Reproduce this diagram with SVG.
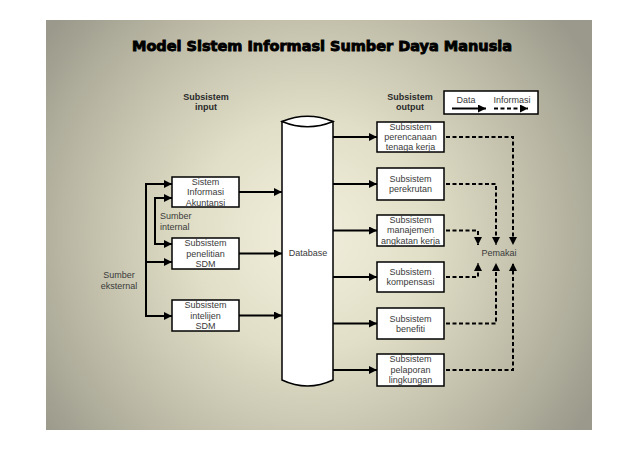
<svg xmlns="http://www.w3.org/2000/svg" width="638" height="452" viewBox="0 0 638 452">
<defs>
<radialGradient id="bg" cx="310" cy="235" r="330" gradientUnits="userSpaceOnUse">
<stop offset="0" stop-color="#f1eedc"/>
<stop offset="0.35" stop-color="#e2dfc8"/>
<stop offset="0.75" stop-color="#b9b7a3"/>
<stop offset="1" stop-color="#9a998b"/>
</radialGradient>
<marker id="ah" viewBox="0 0 8 8" refX="8" refY="4" markerWidth="8" markerHeight="8" markerUnits="userSpaceOnUse" orient="auto">
<path d="M0,0 L8,4 L0,8 z" fill="#000"/>
</marker>
<style>
.box{fill:#fff;stroke:#000;stroke-width:1.5}
.t{font-family:"Liberation Sans",Arial,sans-serif;font-size:9px;fill:#3a3a3a;text-anchor:middle}
.tl{font-family:"Liberation Sans",Arial,sans-serif;font-size:9px;fill:#3a3a3a}
.h{font-family:"Liberation Sans",Arial,sans-serif;font-size:9px;font-weight:bold;fill:#2a2a2a;text-anchor:middle}
.s{fill:none;stroke:#000;stroke-width:2}
.sa{fill:none;stroke:#000;stroke-width:2;marker-end:url(#ah)}
.d{fill:none;stroke:#000;stroke-width:2;stroke-dasharray:4 2.5;marker-end:url(#ah)}
</style>
</defs>
<rect width="638" height="452" fill="#fff"/>
<rect x="46" y="20" width="546" height="410" fill="url(#bg)"/>
<text x="322" y="51" font-family="DejaVu Sans,sans-serif" font-weight="bold" font-size="14.5" fill="#000" stroke="#000" stroke-width="0.9" text-anchor="middle" textLength="380" lengthAdjust="spacingAndGlyphs">Model Sistem Informasi Sumber Daya Manusia</text>

<text class="h" x="206" y="100">Subsistem</text>
<text class="h" x="206" y="110">input</text>
<text class="h" x="410" y="100">Subsistem</text>
<text class="h" x="410" y="110">output</text>

<g id="legend">
<rect x="444" y="91" width="94" height="23" fill="#fff" stroke="#000" stroke-width="1.5"/>
<text class="t" x="466" y="103">Data</text>
<text class="t" x="512" y="103">Informasi</text>
<path class="sa" d="M452,108.5 H486"/>
<path class="d" d="M494,108.5 H528"/>
</g>

<g id="database">
<path d="M282,121.5 V380 Q307.5,392 333,380 V121.5 Z" fill="#fff" stroke="#000" stroke-width="1.5"/>
<path d="M282,121.5 Q307.5,111 333,121.5 Q307.5,132 282,121.5 Z" fill="#fff" stroke="#000" stroke-width="1.5"/>
<text class="t" x="308" y="256">Database</text>
</g>

<g id="in1"><rect class="box" x="172" y="177" width="67" height="30"/>
<text class="t" x="205.5" y="184.5">Sistem</text><text class="t" x="205.5" y="195">Informasi</text><text class="t" x="205.5" y="205.5">Akuntansi</text></g>
<g id="in2"><rect class="box" x="172" y="238" width="67" height="31"/>
<text class="t" x="205.5" y="246">Subsistem</text><text class="t" x="205.5" y="256.5">penelitian</text><text class="t" x="205.5" y="267">SDM</text></g>
<g id="in3"><rect class="box" x="172" y="300" width="67" height="31"/>
<text class="t" x="205.5" y="308">Subsistem</text><text class="t" x="205.5" y="318.5">intelijen</text><text class="t" x="205.5" y="329">SDM</text></g>

<g id="out1"><rect class="box" x="377" y="122" width="67" height="30"/>
<text class="t" x="410.5" y="130">Subsistem</text><text class="t" x="410.5" y="140">perencanaan</text><text class="t" x="410.5" y="150">tenaga kerja</text></g>
<g id="out2"><rect class="box" x="377" y="168" width="67" height="32"/>
<text class="t" x="410.5" y="182">Subsistem</text><text class="t" x="410.5" y="192">perekrutan</text></g>
<g id="out3"><rect class="box" x="377" y="215" width="67" height="31"/>
<text class="t" x="410.5" y="222.5">Subsistem</text><text class="t" x="410.5" y="233">manajemen</text><text class="t" x="410.5" y="243.5">angkatan kerja</text></g>
<g id="out4"><rect class="box" x="377" y="262" width="67" height="30"/>
<text class="t" x="410.5" y="275">Subsistem</text><text class="t" x="410.5" y="285">kompensasi</text></g>
<g id="out5"><rect class="box" x="377" y="308" width="67" height="31"/>
<text class="t" x="410.5" y="321.5">Subsistem</text><text class="t" x="410.5" y="331.5">benefiti</text></g>
<g id="out6"><rect class="box" x="377" y="354" width="67" height="32"/>
<text class="t" x="410.5" y="362">Subsistem</text><text class="t" x="410.5" y="372.5">pelaporan</text><text class="t" x="410.5" y="383">lingkungan</text></g>

<g id="sumber-internal"><text class="tl" x="160" y="219">Sumber</text><text class="tl" x="160" y="230">internal</text></g>
<g id="sumber-eksternal"><text class="t" x="119" y="278">Sumber</text><text class="t" x="119" y="289">eksternal</text></g>
<g id="pemakai"><text class="t" x="499" y="256">Pemakai</text></g>

<g id="connectors">
<path class="s" d="M146,184 V316"/>
<path class="sa" d="M145,184 H172"/>
<path class="sa" d="M146,262 H172"/>
<path class="sa" d="M145,316 H172"/>
<path class="s" d="M155,198 V244"/>
<path class="sa" d="M154,198 H172"/>
<path class="sa" d="M154,244 H172"/>
<path class="sa" d="M239,192 H282"/>
<path class="sa" d="M239,253.5 H282"/>
<path class="sa" d="M239,315.5 H282"/>
<path class="sa" d="M333,137 H377"/>
<path class="sa" d="M333,184 H377"/>
<path class="sa" d="M333,230.5 H377"/>
<path class="sa" d="M333,277 H377"/>
<path class="sa" d="M333,323.5 H377"/>
<path class="sa" d="M333,370 H377"/>
<path class="d" d="M446,137 H513 V245"/>
<path class="d" d="M446,184 H496 V245"/>
<path class="d" d="M446,230.5 H478 V245"/>
<path class="d" d="M446,277 H478 V263"/>
<path class="d" d="M446,323.5 H496 V263"/>
<path class="d" d="M446,370 H513 V263"/>
</g>
</svg>
